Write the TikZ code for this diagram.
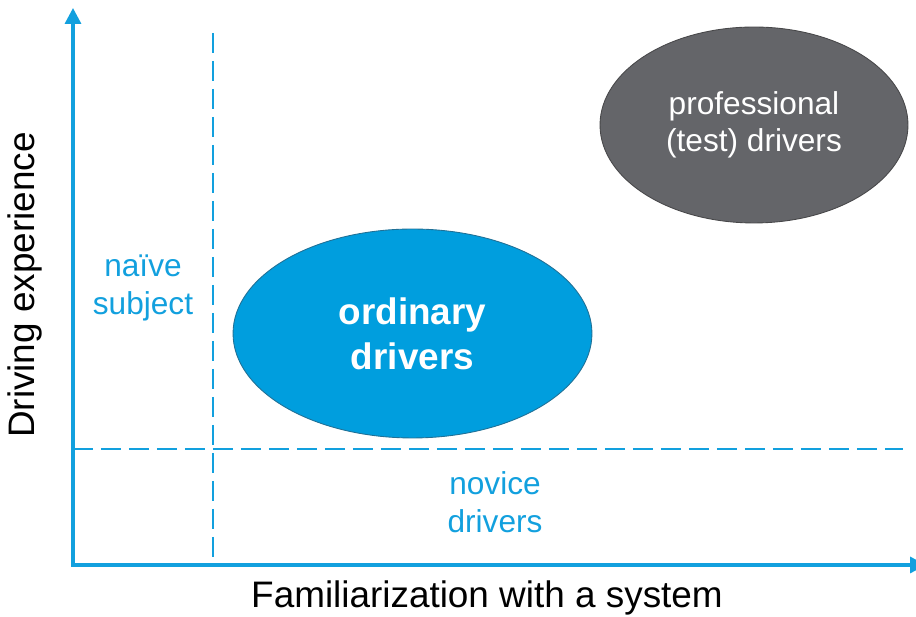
\documentclass[tikz,border=0pt]{standalone}
\usepackage{fontspec}
\setmainfont{Liberation Sans}
\usepackage{xcolor}
\usepackage{tikz}
\usetikzlibrary{arrows.meta}
\usetikzlibrary{shapes.geometric}
\definecolor{axisblue}{RGB}{18,160,222}
\definecolor{ovalblue}{RGB}{0,158,222}
\definecolor{ovalblueline}{RGB}{32,112,150}
\definecolor{ovalgray}{RGB}{100,101,105}
\definecolor{ovalgrayline}{RGB}{72,72,74}
\tikzset{
    tnode/.style = {align=center, inner sep=0pt, text centered},
    axis_line/.style = {draw=axisblue, line width=1.9pt},
    split_line/.style = {draw=axisblue, line width=1.25pt, dash pattern=on 0.4cm off 0.16cm},
    blue_oval/.style = {tnode, ellipse, draw=ovalblueline, fill=ovalblue, line width=0.5pt, text=white, font=\bfseries\fontsize{21}{25.5}\selectfont, minimum width=7.18cm, minimum height=4.18cm},
    gray_oval/.style = {tnode, ellipse, draw=ovalgrayline, fill=ovalgray, line width=0.5pt, text=white, font=\fontsize{18}{21}\selectfont, minimum width=6.16cm, minimum height=3.92cm},
    group_label/.style = {tnode, text=axisblue, font=\fontsize{18}{21.5}\selectfont},
    axis_label/.style = {tnode, text=black, font=\fontsize{21}{25}\selectfont}
}

\begin{document}
\begin{tikzpicture}
    [x=0.02cm, y=0.02cm,
    >={Triangle[length=3.2mm,width=3.2mm]}]

    \useasboundingbox (0,0) rectangle (916,617);

    \coordinate (origin) at (73,52);
    \coordinate (y_end) at (73,609);
    \coordinate (x_end) at (926,52);
    \coordinate (split_top) at (213,584);
    \coordinate (split_bottom) at (213,52);
    \coordinate (novice_left) at (73,168);
    \coordinate (novice_right) at (903,168);

    \draw [split_line] (split_top) -- (split_bottom);
    \draw [split_line] (novice_left) -- (novice_right);
    \draw [axis_line, <->] (y_end) -- (origin) -- (x_end);

    \node [blue_oval] (ordinary) at (412.5,283.5) {ordinary\\drivers};
    \node [gray_oval] (professional) at (754,492) {professional\\(test) drivers};

    \node [group_label] (naive) at (143,329) {naïve\\subject};
    \node [group_label] (novice) at (495,114.5) {novice\\drivers};

    \node [axis_label, rotate=90] (experience) at (25,332) {Driving experience};
    \node [axis_label, anchor=base] (familiarization) at (487,9) {Familiarization with a system};
\end{tikzpicture}
\end{document}
